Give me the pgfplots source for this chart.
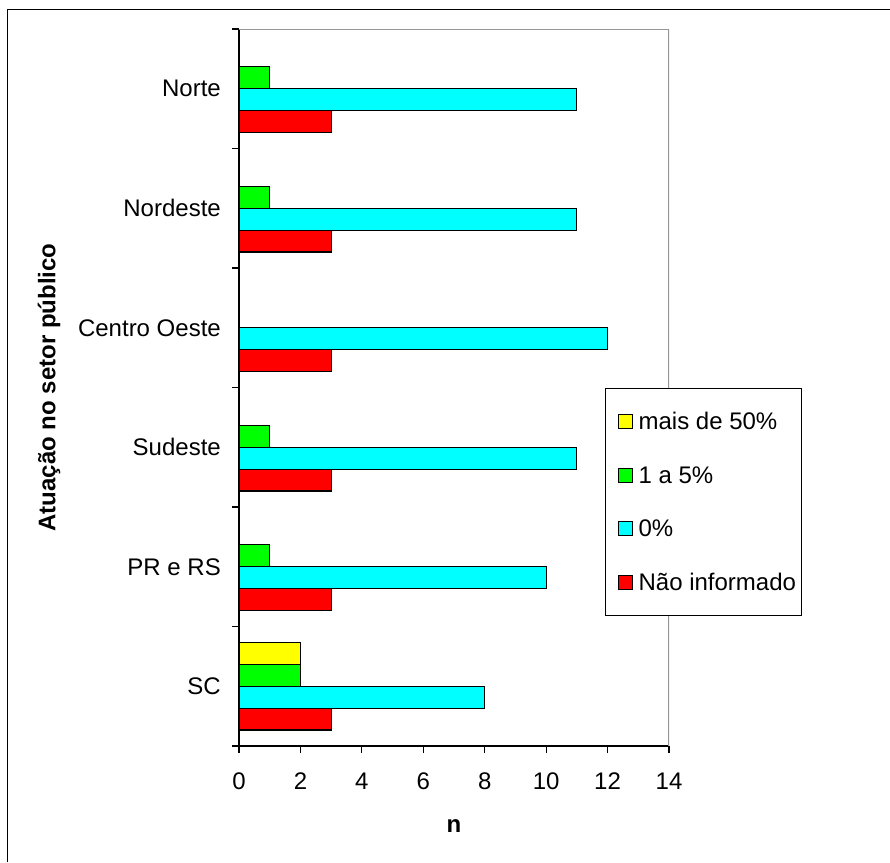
\documentclass[border=0pt]{standalone}
\usepackage{pgfplots}
\pgfplotsset{compat=1.18}
\usepackage{fontspec}
\setmainfont{Liberation Sans}

\definecolor{barred}{RGB}{255,0,0}
\definecolor{barcyan}{RGB}{0,255,255}
\definecolor{bargreen}{RGB}{0,255,0}
\definecolor{baryellow}{RGB}{255,255,0}
\definecolor{frame}{RGB}{150,150,150}

\begin{document}
\begin{tikzpicture}[x=1pt,y=1pt]
\path[use as bounding box] (0,0) rectangle (890,-862);
\draw[line width=1.4pt] (7.5,-862) -- (7.5,-9.5) -- (890,-9.5);
\begin{axis}[
  at={(239pt,-746pt)}, anchor=south west,
  scale only axis, width=430pt, height=717pt,
  xmin=0, xmax=14, ymin=-0.5, ymax=5.5,
  xbar, bar width=0.183,
  axis lines*=left,
  axis line style={-, black, line width=1.2pt},
  xtick={0,2,...,14},
  ytick={0,...,5},
  yticklabels={SC, PR e RS, Sudeste, Centro Oeste, Nordeste, Norte},
  minor ytick={-0.5,0.5,...,5.5},
  tick align=outside,
  major tick length=7pt, minor tick length=7pt,
  tick style={black, line width=1.2pt},
  major y tick style={draw=none},
  font=\fontsize{24}{28}\selectfont,
  /pgf/number format/assume math mode=true,
  xticklabel style={anchor=north, inner sep=0pt, yshift=-20pt},
  yticklabel style={anchor=east, inner sep=0pt, xshift=-11pt},
  xlabel={\bfseries n},
  ylabel={\bfseries Atuação no setor público},
  every axis x label/.style={at={(axis description cs:0.5,-0.1116)}, anchor=center},
  every axis y label/.style={at={(axis description cs:-0.4419,0.5)}, rotate=90, anchor=center},
  reverse legend,
  legend image code/.code={%
    \draw[#1, line width=1pt] (9pt,-7pt) rectangle (23pt,7pt);
    \path (0pt,0pt) (27pt,0pt);},
  legend style={at={(axis description cs:0.851,0.4993)}, anchor=north west,
    draw=black, line width=1pt, row sep=31pt, inner ysep=22pt,
    cells={anchor=west}, font=\fontsize{24}{28}\selectfont},
]
% regions, bottom to top: SC, PR e RS, Sudeste, Centro Oeste, Nordeste, Norte
\addplot[fill=barred, draw=black, line width=1.2pt, bar shift=-0.2745]
  coordinates {(3,0) (3,1) (3,2) (3,3) (3,4) (3,5)};
\addlegendentry{Não informado}
\addplot[fill=barcyan, draw=black, line width=1.2pt, bar shift=-0.0915]
  coordinates {(8,0) (10,1) (11,2) (12,3) (11,4) (11,5)};
\addlegendentry{0\%}
\addplot[fill=bargreen, draw=black, line width=1.2pt, bar shift=0.0915]
  coordinates {(2,0) (1,1) (1,2) (1,4) (1,5)};
\addlegendentry{1 a 5\%}
\addplot[fill=baryellow, draw=black, line width=1.2pt, bar shift=0.2745]
  coordinates {(2,0)};
\addlegendentry{mais de 50\%}
% plot area frame on the top and right sides
\draw[frame, line width=1.5pt] (rel axis cs:0,1) -- (rel axis cs:1,1) -- (rel axis cs:1,0);
\end{axis}
\end{tikzpicture}
\end{document}
